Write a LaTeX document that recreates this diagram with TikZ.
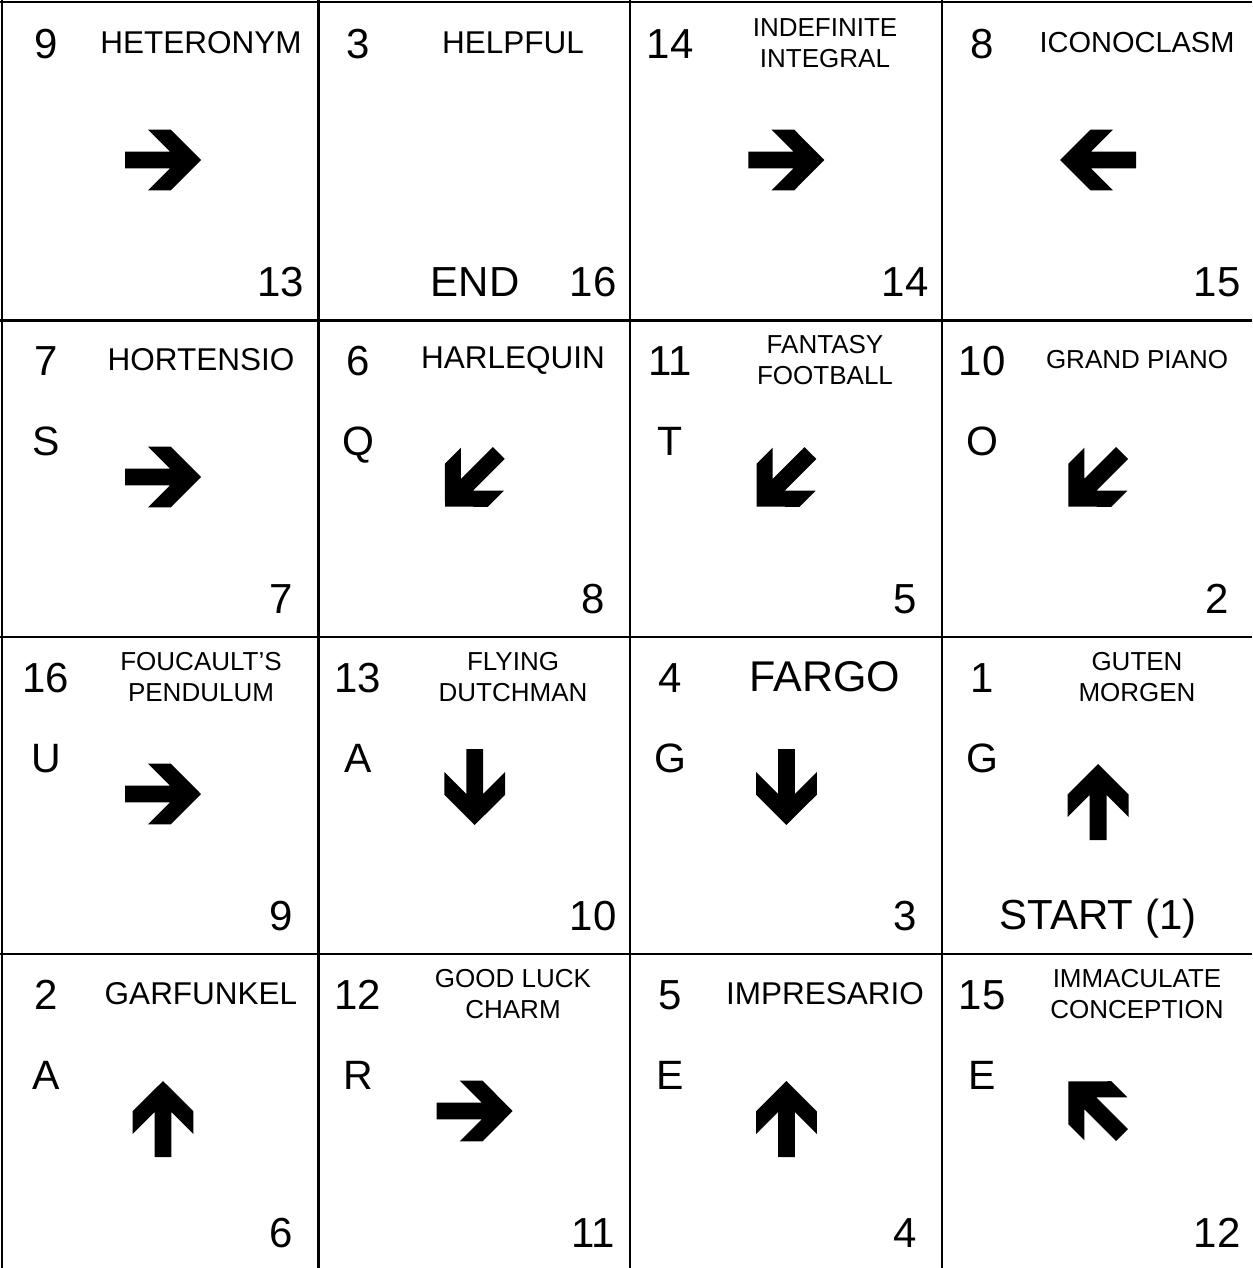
\documentclass[tikz,border=0pt]{standalone}
\usepackage{fontspec}
\setmainfont{Liberation Sans}
\usepackage{tikz}
\usetikzlibrary{positioning}
% a solid block arrow: centre x, centre y, direction, push along the direction
\newcommand{\blockarrow}[4]{%
  \fill[shift={(#1,#2)}, rotate=#3, xshift=#4]
    (-38,8.4) -- (7,8.4) -- (-15,30.4) -- (7.7,30.4) -- (38,0) -- (7.7,-30.4)
    -- (-15,-30.4) -- (7,-8.4) -- (-38,-8.4) -- cycle;}
\tikzset{
  every node/.style={inner sep=0pt, align=center},
  num/.style={font=\fontsize{42}{48}\selectfont},
  letter/.style={font=\fontsize{41}{48}\selectfont},
  % one title style; the argument is the point size (31.5 one line, 26 two lines)
  ttl/.style={font=\fontsize{#1}{30.7}\selectfont},
  gridline/.style={line width=2.2pt},
}
\begin{document}
\begin{tikzpicture}[x=1pt,y=-1pt]
  \useasboundingbox (0,0) rectangle (1252,1268);

  % ---- grid ----
  \foreach \gx in {2,318.5,630,941.7} \draw[gridline] (\gx,0) -- (\gx,1268);
  \foreach \gy in {2,320.5,637.3,954.3} \draw[gridline] (0,\gy) -- (1252,\gy);

  % ---- top row of each square: number and clue ----
  \foreach \c/\r/\n/\w/\s [count=\i] in {
      0/0/9/HETERONYM/31.5, 1/0/3/HELPFUL/31.5, 2/0/14/INDEFINITE\\INTEGRAL/26, 3/0/8/ICONOCLASM/29,
      0/1/7/HORTENSIO/31.5, 1/1/6/HARLEQUIN/31.5, 2/1/11/FANTASY\\FOOTBALL/26, 3/1/10/GRAND PIANO/26,
      0/2/16/FOUCAULT’S\\PENDULUM/26, 1/2/13/FLYING\\DUTCHMAN/26, 2/2/4/FARGO/43, 3/2/1/GUTEN\\MORGEN/26,
      0/3/2/GARFUNKEL/31.5, 1/3/12/GOOD LUCK\\CHARM/26, 2/3/5/IMPRESARIO/31.5, 3/3/15/IMMACULATE\\CONCEPTION/26}{
    \node[num]      (n\i) at (46+312*\c, 44+317*\r)  {\n};
    \node[ttl=\s]   (w\i) at (201+312*\c, 43+317*\r) {\w};
  }

  % ---- letters ----
  \foreach \c/\r/\l [count=\i] in {0/1/S, 1/1/Q, 2/1/T, 3/1/O, 0/2/U, 1/2/A, 2/2/G, 3/2/G,
                                   0/3/A, 1/3/R, 2/3/E, 3/3/E}{
    \node[letter, anchor=base] (l\i) at (46+312*\c, 138+317*\r) {\l};
  }

  % ---- next square ----
  \foreach \c/\r/\b [count=\i] in {0/0/13, 1/0/16, 2/0/14, 3/0/15, 0/1/7, 1/1/8, 2/1/5, 3/1/2,
                                   0/2/9, 1/2/10, 2/2/3, 0/3/6, 1/3/11, 2/3/4, 3/3/12}{
    \node[num] (b\i) at (281+312*\c, 282+317*\r) {\b};
  }
  \node[num] (end) at (475,282) {END};
  \node[num, anchor=base] (start) at (1098,929) {START (1)};

  % ---- arrows ----
  \foreach \c/\r/\a/\dy/\p in {0/0/0/160/0, 2/0/0/160/0, 3/0/180/160/0,
      0/1/0/160/0, 1/1/225/160/4, 2/1/225/160/4, 3/1/225/160/4,
      0/2/0/160/0, 1/2/270/153/0, 2/2/270/153/0, 3/2/90/168/0,
      0/3/90/168/0, 1/3/0/160/0, 2/3/90/168/0, 3/3/135/160/4}{
    \blockarrow{163+311.7*\c}{\dy+317*\r}{\a}{\p}
  }
\end{tikzpicture}
\end{document}
